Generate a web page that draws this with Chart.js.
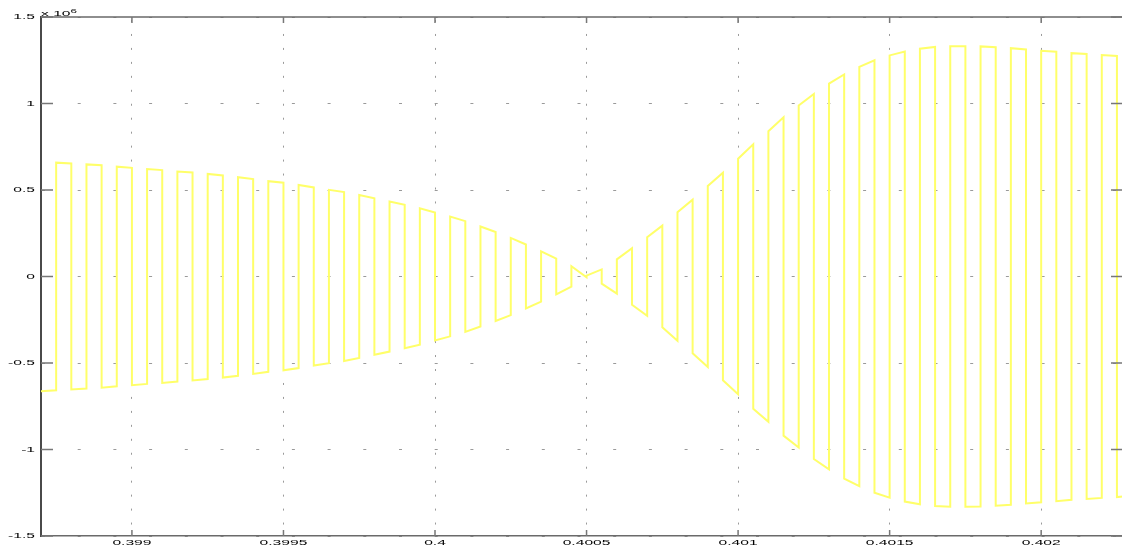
<!DOCTYPE html>
<html>
<head>
<meta charset="utf-8">
<script src="https://cdn.jsdelivr.net/npm/chart.js@4.4.0/dist/chart.umd.min.js"></script>
<style>
  html, body { margin: 0; padding: 0; background: #fff; overflow: hidden; }
  canvas { display: block; }
</style>
</head>
<body>
<canvas id="myChart" width="1124" height="550"></canvas>
<script>
const xTicks = [0.399, 0.3995, 0.4, 0.4005, 0.401, 0.4015, 0.402];
const xTickLabels = ['0.399', '0.3995', '0.4', '0.4005', '0.401', '0.4015', '0.402'];
const yTicks = [-1.5, -1, -0.5, 0, 0.5, 1, 1.5];
const yTickLabels = ['-1.5', '-1', '-0.5', '0', '0.5', '1', '1.5'];
const yExponent = '6';

// signal, in units of 10^6
const startPoint = [0.3987, -0.664];
const endPoint = [0.40227, -1.271];
// switching instants of the square wave
const edgeTimes = [
  0.39875, 0.39880, 0.39885, 0.39890, 0.39895, 0.39900, 0.39905, 0.39910, 0.39915, 0.39920,
  0.39925, 0.39930, 0.39935, 0.39940, 0.39945, 0.39950, 0.39955, 0.39960, 0.39965, 0.39970,
  0.39975, 0.39980, 0.39985, 0.39990, 0.39995, 0.40000, 0.40005, 0.40010, 0.40015, 0.40020,
  0.40025, 0.40030, 0.40035, 0.40040, 0.40045, 0.40050, 0.40055, 0.40060, 0.40065, 0.40070,
  0.40075, 0.40080, 0.40085, 0.40090, 0.40095, 0.40100, 0.40105, 0.40110, 0.40115, 0.40120,
  0.40125, 0.40130, 0.40135, 0.40140, 0.40145, 0.40150, 0.40155, 0.40160, 0.40165, 0.40170,
  0.40175, 0.40180, 0.40185, 0.40190, 0.40195, 0.40200, 0.40205, 0.40210, 0.40215, 0.40220,
  0.40225
];
// level right after each switch (the level just before it is the mirrored value)
const edgeLevels = [
  0.658, -0.653, 0.648, -0.643, 0.635, -0.628, 0.621, -0.615, 0.607, -0.601,
  0.593, -0.584, 0.574, -0.563, 0.551, -0.542, 0.529, -0.515, 0.501, -0.488,
  0.471, -0.452, 0.434, -0.415, 0.394, -0.370, 0.346, -0.320, 0.289, -0.257,
  0.223, -0.185, 0.145, -0.103, 0.059, 0.005, -0.041, 0.099, -0.163, 0.227,
  -0.294, 0.371, -0.444, 0.523, -0.600, 0.681, -0.764, 0.840, -0.920, 0.988,
  -1.055, 1.115, -1.168, 1.212, -1.250, 1.278, -1.301, 1.317, -1.327, 1.331,
  -1.331, 1.330, -1.325, 1.320, -1.312, 1.305, -1.299, 1.291, -1.286, 1.280,
  -1.275
];

let points = [{x: startPoint[0], y: startPoint[1]}];
edgeTimes.forEach((t, i) => {
  points.push({x: t, y: -edgeLevels[i]});
  points.push({x: t, y: edgeLevels[i]});
});
points.push({x: endPoint[0], y: endPoint[1]});

const stretch = 1.95;

// matlab look: box, inward ticks, wide squashed labels
const matlabAxes = {
  id: 'matlabAxes',
  afterDraw(chart) {
    const ctx = chart.ctx;
    const {left, right, top, bottom} = chart.chartArea;
    const xs = chart.scales.x, ys = chart.scales.y;
    ctx.save();
    ctx.strokeStyle = '#6a6a6a';
    ctx.lineWidth = 1.5;
    ctx.beginPath();
    ctx.moveTo(left, top); ctx.lineTo(right, top);
    ctx.moveTo(right, top); ctx.lineTo(right, bottom);
    ctx.stroke();

    ctx.strokeStyle = '#777';
    ctx.lineWidth = 1.5;
    ctx.beginPath();
    yTicks.forEach(v => {
      let y = ys.getPixelForValue(v);
      ctx.moveTo(left, y); ctx.lineTo(left + 12, y);
      ctx.moveTo(right - 12, y); ctx.lineTo(right, y);
    });
    xTicks.forEach(v => {
      let x = xs.getPixelForValue(v);
      ctx.moveTo(x, bottom); ctx.lineTo(x, bottom - 6);
      ctx.moveTo(x, top); ctx.lineTo(x, top + 6);
    });
    ctx.stroke();

    ctx.fillStyle = '#000';
    ctx.font = '8px "Liberation Sans"';
    ctx.textBaseline = 'middle';
    ctx.textAlign = 'right';
    yTicks.forEach((v, i) => {
      ctx.save();
      ctx.translate(35, ys.getPixelForValue(v));
      ctx.scale(stretch, 1);
      ctx.fillText(yTickLabels[i], 0, 0);
      ctx.restore();
    });
    ctx.textAlign = 'center';
    xTicks.forEach((v, i) => {
      ctx.save();
      ctx.translate(xs.getPixelForValue(v), 543);
      ctx.scale(stretch, 1);
      ctx.fillText(xTickLabels[i], 0, 0);
      ctx.restore();
    });
    ctx.textAlign = 'left';
    ctx.save();
    ctx.translate(41, 13.5);
    ctx.scale(stretch, 1);
    ctx.fillText('x 10', 0, 0);
    let w = ctx.measureText('x 10').width;
    ctx.font = '6px "Liberation Sans"';
    ctx.fillText(yExponent, w, -2.5);
    ctx.restore();
    ctx.restore();
  }
};

let ctx = document.getElementById('myChart').getContext('2d');
let chart = new Chart(ctx, {
  type: 'line',
  data: {
    datasets: [{
      data: points,
      borderColor: 'rgb(255,255,105)',
      borderWidth: 2,
      pointRadius: 0,
      tension: 0,
      fill: false
    }]
  },
  options: {
    responsive: false,
    animation: false,
    devicePixelRatio: 1,
    layout: { padding: { top: 17, right: 1, left: 0, bottom: 0 } },
    plugins: { legend: { display: false }, tooltip: { enabled: false } },
    scales: {
      x: {
        type: 'linear',
        min: 0.3987,
        max: 0.40227,
        afterBuildTicks: (s) => { s.ticks = xTicks.map(v => ({value: v})); },
        afterFit: (s) => { s.height = 14; },
        ticks: { display: false },
        grid: { color: '#9a9a9a', lineWidth: 1, drawTicks: false },
        border: { color: '#6a6a6a', width: 1.5, dash: [2, 11.96], dashOffset: -3 }
      },
      y: {
        type: 'linear',
        min: -1.5,
        max: 1.5,
        afterBuildTicks: (s) => { s.ticks = yTicks.map(v => ({value: v})); },
        afterFit: (s) => { s.width = 41; },
        ticks: { display: false },
        grid: { color: '#9a9a9a', lineWidth: 1, drawTicks: false },
        border: { color: '#4a4a4a', width: 2, dash: [3, 32.7] }
      }
    }
  },
  plugins: [matlabAxes]
});
</script>
</body>
</html>
